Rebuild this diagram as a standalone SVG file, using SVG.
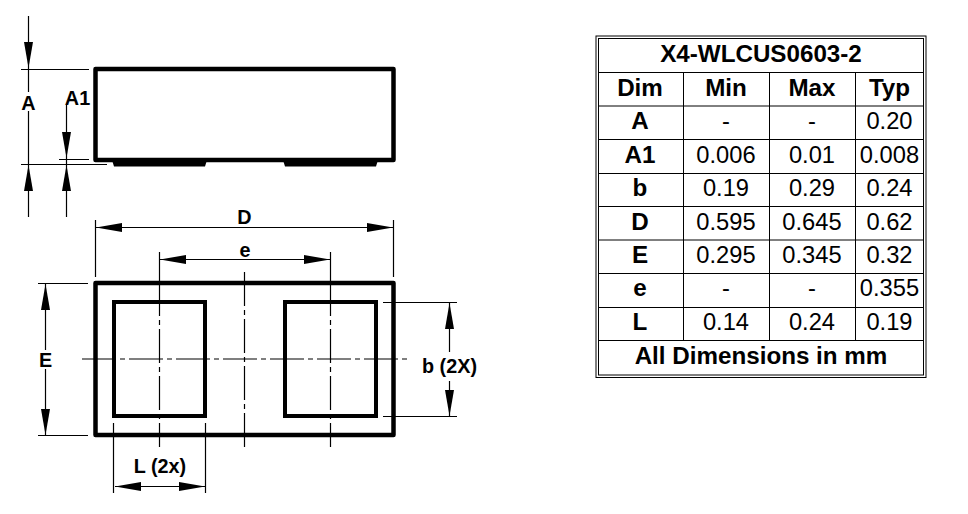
<svg xmlns="http://www.w3.org/2000/svg" width="968" height="514" viewBox="0 0 968 514">
<style>
text{font-family:"Liberation Sans",Arial,sans-serif;fill:#000;text-anchor:middle}
.l{font-size:19.800px;font-weight:700}
.h{font-size:24.200px;font-weight:700}
.v{font-size:23.700px}
.thin{fill:none;stroke:#000;stroke-width:1.200}
.thick{fill:none;stroke:#000;stroke-width:4.500;stroke-linejoin:round}
.pad{fill:none;stroke:#000;stroke-width:4}
.cl{fill:none;stroke:#000;stroke-width:1.200;stroke-dasharray:34 4 5 4}
.grid{fill:none;stroke:#000;stroke-width:1}
.dim{fill:none;stroke:#000;stroke-width:1.200;marker-end:url(#a)}
</style>
<defs>
<marker id="a" markerUnits="userSpaceOnUse" markerWidth="26" markerHeight="14" refX="26" refY="7" orient="auto"><path d="M0 2.500L26 7L0 11.500Z" fill="#000"/></marker>
</defs>
<rect width="968" height="514" fill="#fff"/>
<g id="side-view">
<rect class="thick" x="95.500" y="69" width="298" height="91"/>
<path d="M112 160H207L205 166.500H114ZM283 160H378L376 166.500H285Z" fill="#000"/>
</g>
<g id="bottom-view">
<rect class="thick" x="95.500" y="283" width="298" height="152"/>
<rect id="pad-left" class="pad" x="114" y="302" width="91" height="114"/>
<rect id="pad-right" class="pad" x="285" y="302" width="91" height="114"/>
</g>
<g id="connectors">
<path class="thin" d="M21 69.500H89M21 164.500H107M59 159.500H89"/>
<path class="dim" d="M28.500 16V68"/>
<path class="thin" d="M28.500 68V92M28.500 111V164"/>
<path class="dim" d="M28.500 217V165"/>
<path class="dim" d="M66.500 105V158"/>
<path class="dim" d="M66.500 217V165"/>
<path class="thin" d="M66.500 158V165M95.500 220V277M393.500 220V277"/>
<path class="dim" d="M245 227.500H96"/>
<path class="dim" d="M245 227.500H393"/>
<path class="thin" d="M159.500 252V282M330.500 252V282"/>
<path class="dim" d="M245 259.500H160"/>
<path class="dim" d="M245 259.500H330"/>
<path class="thin" d="M38 283.500H88M38 435.500H88"/>
<path class="dim" d="M45.500 350V284"/>
<path class="dim" d="M45.500 369V435"/>
<path class="thin" d="M383 302.500H457M383 416.500H457"/>
<path class="dim" d="M449.500 352V303"/>
<path class="dim" d="M449.500 381V416"/>
<path class="thin" d="M113.500 423V493M205.500 423V493"/>
<path class="dim" d="M160 486.500H115"/>
<path class="dim" d="M160 486.500H205"/>
<path class="cl" d="M82 359H408"/>
<path class="cl" d="M159.500 282V447M330.500 282V447M244.500 272V447"/>
</g>
<g id="dim-labels">
<text class="l" x="28.500" y="110">A</text>
<text class="l" x="77.500" y="105">A1</text>
<text class="l" x="244.500" y="224">D</text>
<text class="l" x="245" y="257">e</text>
<text class="l" x="45.500" y="366.500">E</text>
<text class="l" x="449.500" y="373">b (2X)</text>
<text class="l" x="160" y="473">L (2x)</text>
</g>
<g id="table">
<rect class="grid" x="596" y="36" width="330" height="341.500"/>
<rect class="grid" x="598.500" y="38.500" width="325" height="336.500"/>
<path class="grid" d="M598.500 72.500H923.500M598.500 106H923.500M598.500 139.500H923.500M598.500 173.500H923.500M598.500 206.500H923.500M598.500 240H923.500M598.500 273.500H923.500M598.500 307.500H923.500M598.500 340.500H923.500M683.500 72.500V340.500M769.500 72.500V340.500M855.500 72.500V340.500"/>
<text class="h" x="761" y="62">X4-WLCUS0603-2</text>
<g class="h">
<text x="640" y="96">Dim</text><text x="726" y="96">Min</text><text x="812" y="96">Max</text><text x="889.500" y="96">Typ</text>
<text x="640" y="128.500">A</text><text x="640" y="162.500">A1</text><text x="640" y="195.500">b</text><text x="640" y="229.500">D</text><text x="640" y="262.500">E</text><text x="640" y="296">e</text><text x="640" y="330">L</text>
</g>
<g class="v">
<text x="726" y="128.500">-</text><text x="812" y="128.500">-</text><text x="889.500" y="128.500">0.20</text>
<text x="726" y="162.500">0.006</text><text x="812" y="162.500">0.01</text><text x="889.500" y="162.500">0.008</text>
<text x="726" y="195.500">0.19</text><text x="812" y="195.500">0.29</text><text x="889.500" y="195.500">0.24</text>
<text x="726" y="229.500">0.595</text><text x="812" y="229.500">0.645</text><text x="889.500" y="229.500">0.62</text>
<text x="726" y="262.500">0.295</text><text x="812" y="262.500">0.345</text><text x="889.500" y="262.500">0.32</text>
<text x="726" y="296">-</text><text x="812" y="296">-</text><text x="889.500" y="296">0.355</text>
<text x="726" y="330">0.14</text><text x="812" y="330">0.24</text><text x="889.500" y="330">0.19</text>
</g>
<text class="h" x="761" y="363.500">All Dimensions in mm</text>
</g>
</svg>
